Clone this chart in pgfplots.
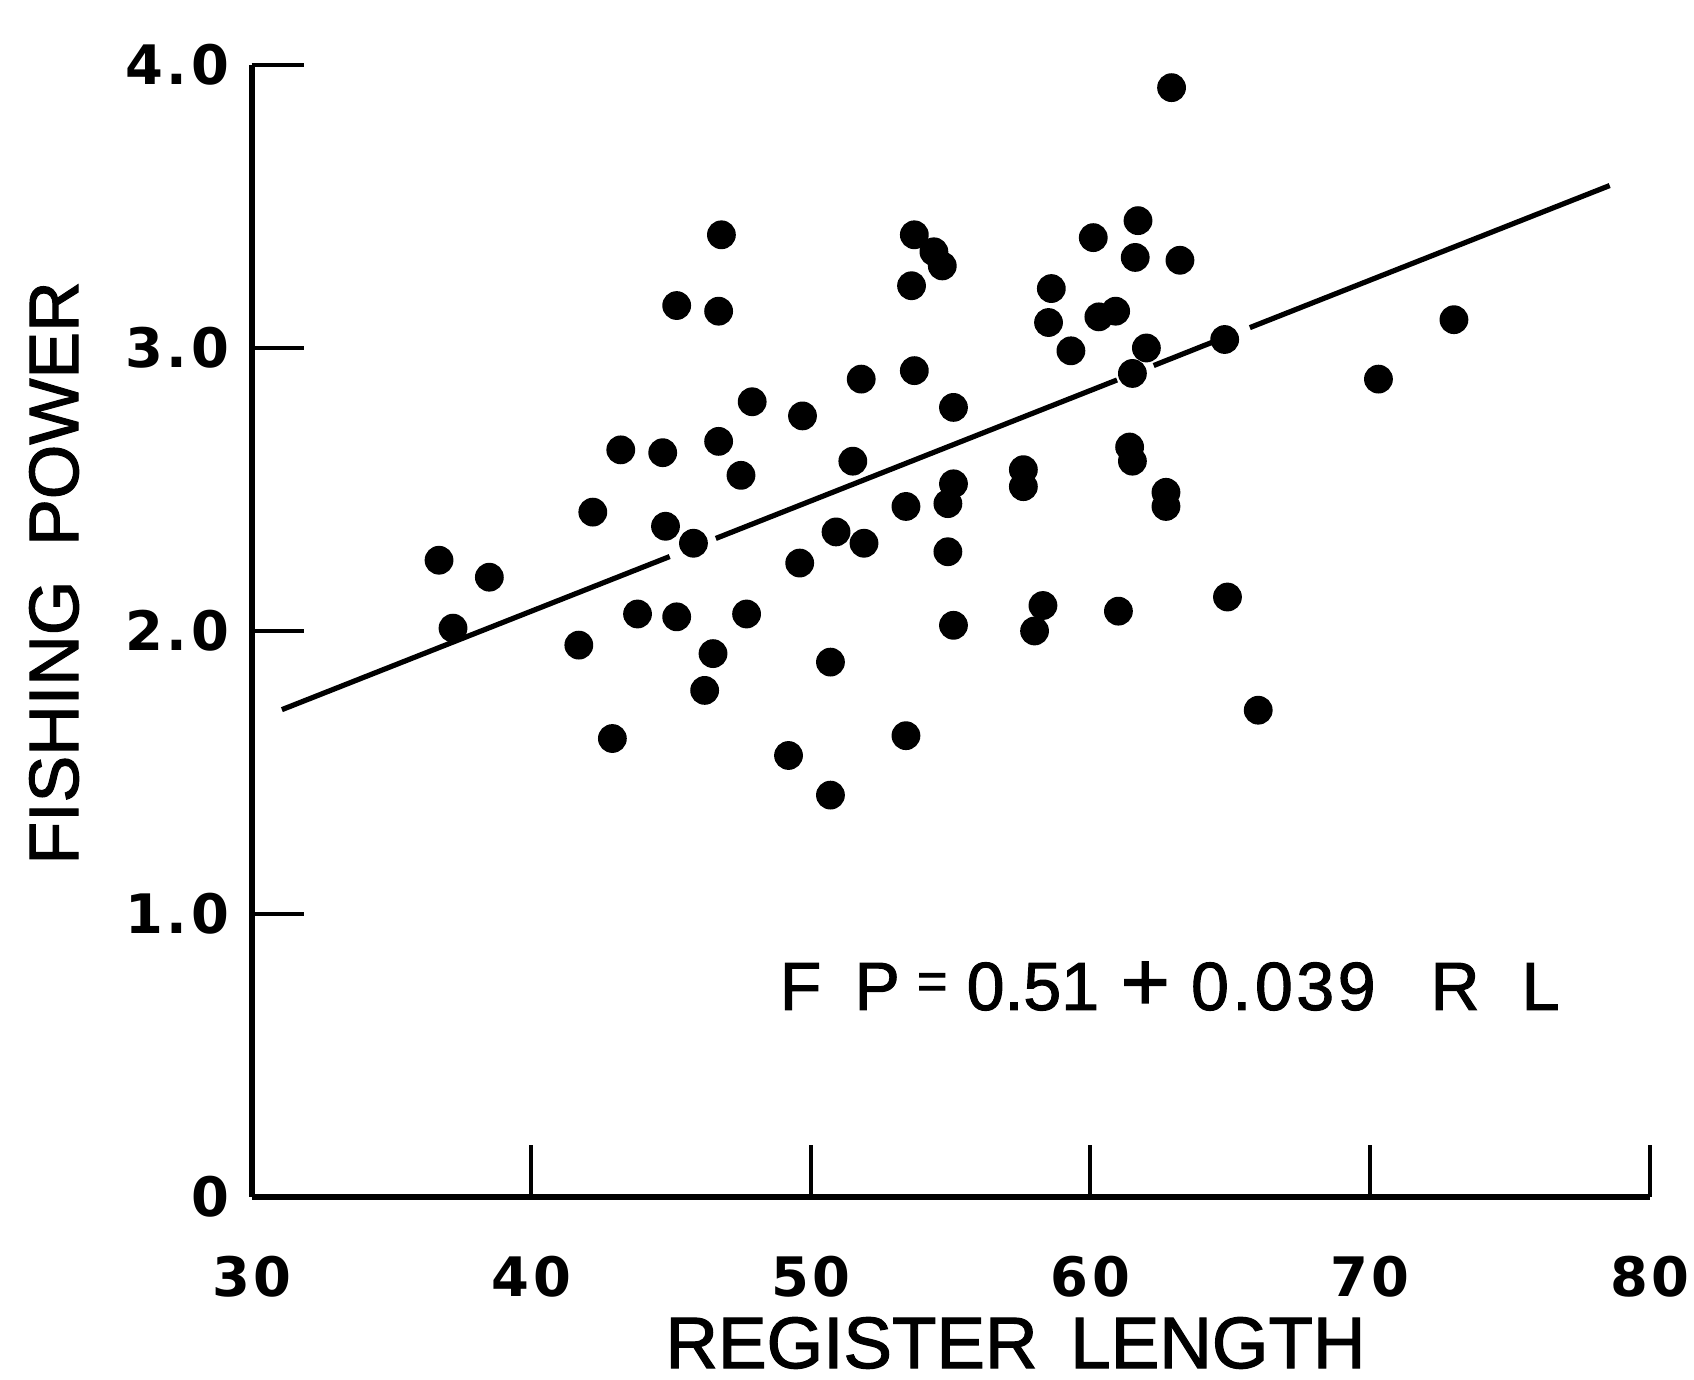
\documentclass[border=0pt]{standalone}
\usepackage{fontspec}
\setmainfont{Liberation Sans}
\newfontfamily\labelfont{Liberation Sans}[FakeBold=1.6]
\newfontfamily\tickfont{DejaVu Sans}
\usepackage{pgfplots}
\pgfplotsset{compat=1.18}

% Fishing power against register length, one point per vessel
\pgfplotstableread{
rl    fp
36.7  2.25
37.2  2.01
38.5  2.19
41.7  1.95
42.2  2.42
42.9  1.62
43.2  2.64
43.8  2.06
44.7  2.63
44.8  2.37
45.2  3.15
45.2  2.05
45.8  2.31
46.2  1.79
46.5  1.92
46.7  3.13
46.8  3.40
46.7  2.67
47.5  2.55
47.7  2.06
47.9  2.81
49.2  1.56
49.6  2.24
49.7  2.76
50.7  1.89
50.7  1.42
50.9  2.35
51.5  2.60
51.8  2.89
51.9  2.31
53.4  1.63
53.4  2.44
53.7  3.40
53.6  3.22
53.7  2.92
54.4  3.34
54.7  3.29
54.9  2.45
55.1  2.52
54.9  2.28
55.1  2.79
55.1  2.02
57.6  2.57
57.6  2.51
58.0  2.00
58.3  2.09
58.6  3.21
58.5  3.09
59.3  2.99
60.1  3.39
60.3  3.11
60.9  3.13
61.0  2.07
61.4  2.65
61.5  2.60
61.5  2.91
61.7  3.45
61.6  3.32
62.0  3.00
62.7  2.49
62.7  2.44
62.9  3.92
63.2  3.31
64.8  3.03
64.9  2.12
66.0  1.72
70.3  2.89
73.0  3.10
}\vessels

\newcommand{\dk}{\kern0.9pt}

\begin{document}
\begin{tikzpicture}[x=1pt,y=1pt]
\useasboundingbox (-62.93,-45.75) rectangle (360.58,299.25);
\begin{axis}[
  at={(0,0)}, anchor=south west,
  scale only axis, width=349.5pt, height=283pt,
  xmin=30, xmax=80, ymin=0, ymax=4,
  axis x line=bottom, axis y line=left,
  axis line style={-, line width=1.6pt, black},
  xtick={30,40,50,60,70,80},
  ytick={0,1,2,3,4},
  xticklabels={3\dk0,4\dk0,5\dk0,6\dk0,7\dk0,8\dk0},
  yticklabels={0,1\dk.\dk0,2\dk.\dk0,3\dk.\dk0,4\dk.\dk0},
  tick align=inside,
  major tick length=13pt,
  tick style={line width=1pt, black},
  /pgf/number format/assume math mode=true,
  ticklabel style={font=\tickfont\fontsize{13.6}{15}\selectfont\bfseries, inner sep=0pt},
  yticklabel style={anchor=east, xshift=-5.5pt},
  xticklabel style={anchor=north, yshift=-14.5pt},
  clip=false,
]
  % observations
  \addplot[only marks, mark=*, mark size=3.4pt, black] table[x=rl, y=fp] {\vessels};

  % fitted line FP = 0.51 + 0.039 RL, broken where it meets the dots
  \addplot[black, line width=1.3pt] coordinates {(31.08,1.722) (44.95,2.263)};
  \addplot[black, line width=1.3pt] coordinates {(46.60,2.327) (60.95,2.887)};
  \addplot[black, line width=1.3pt] coordinates {(62.26,2.938) (64.35,3.020)};
  \addplot[black, line width=1.3pt] coordinates {(65.70,3.072) (78.57,3.574)};

  % regression equation, lettered piece by piece
  \begin{scope}[every node/.style={font=\labelfont\fontsize{17}{18}\selectfont, inner sep=0pt}]
    \node[anchor=base] at (axis cs:49.63,0.661) {F};
    \node[anchor=base] at (axis cs:52.37,0.661) {P};
    \node[anchor=center, font=\labelfont\fontsize{13}{14}\selectfont] at (axis cs:54.34,0.745) {=};
    \node[anchor=base] at (axis cs:57.94,0.661) {0.51};
    \node[anchor=center, font=\labelfont\fontsize{21}{22}\selectfont] at (axis cs:61.96,0.745) {+};
    \node[anchor=base] at (axis cs:66.90,0.661) {0\dk.\dk0\dk3\dk9};
    \node[anchor=base] at (axis cs:73.04,0.661) {R};
    \node[anchor=base] at (axis cs:76.10,0.661) {L};
  \end{scope}

  \node[font=\labelfont\fontsize{17.5}{18}\selectfont, rotate=90, inner sep=0pt] at (axis cs:22.93,2.205)
    {FISHING\hspace{0.5em}POWER};
  \node[font=\labelfont\fontsize{18.2}{19}\selectfont, inner sep=0pt] at (axis cs:57.32,-0.516)
    {REGISTER\hspace{0.45em}LENGTH};
\end{axis}
\end{tikzpicture}
\end{document}
